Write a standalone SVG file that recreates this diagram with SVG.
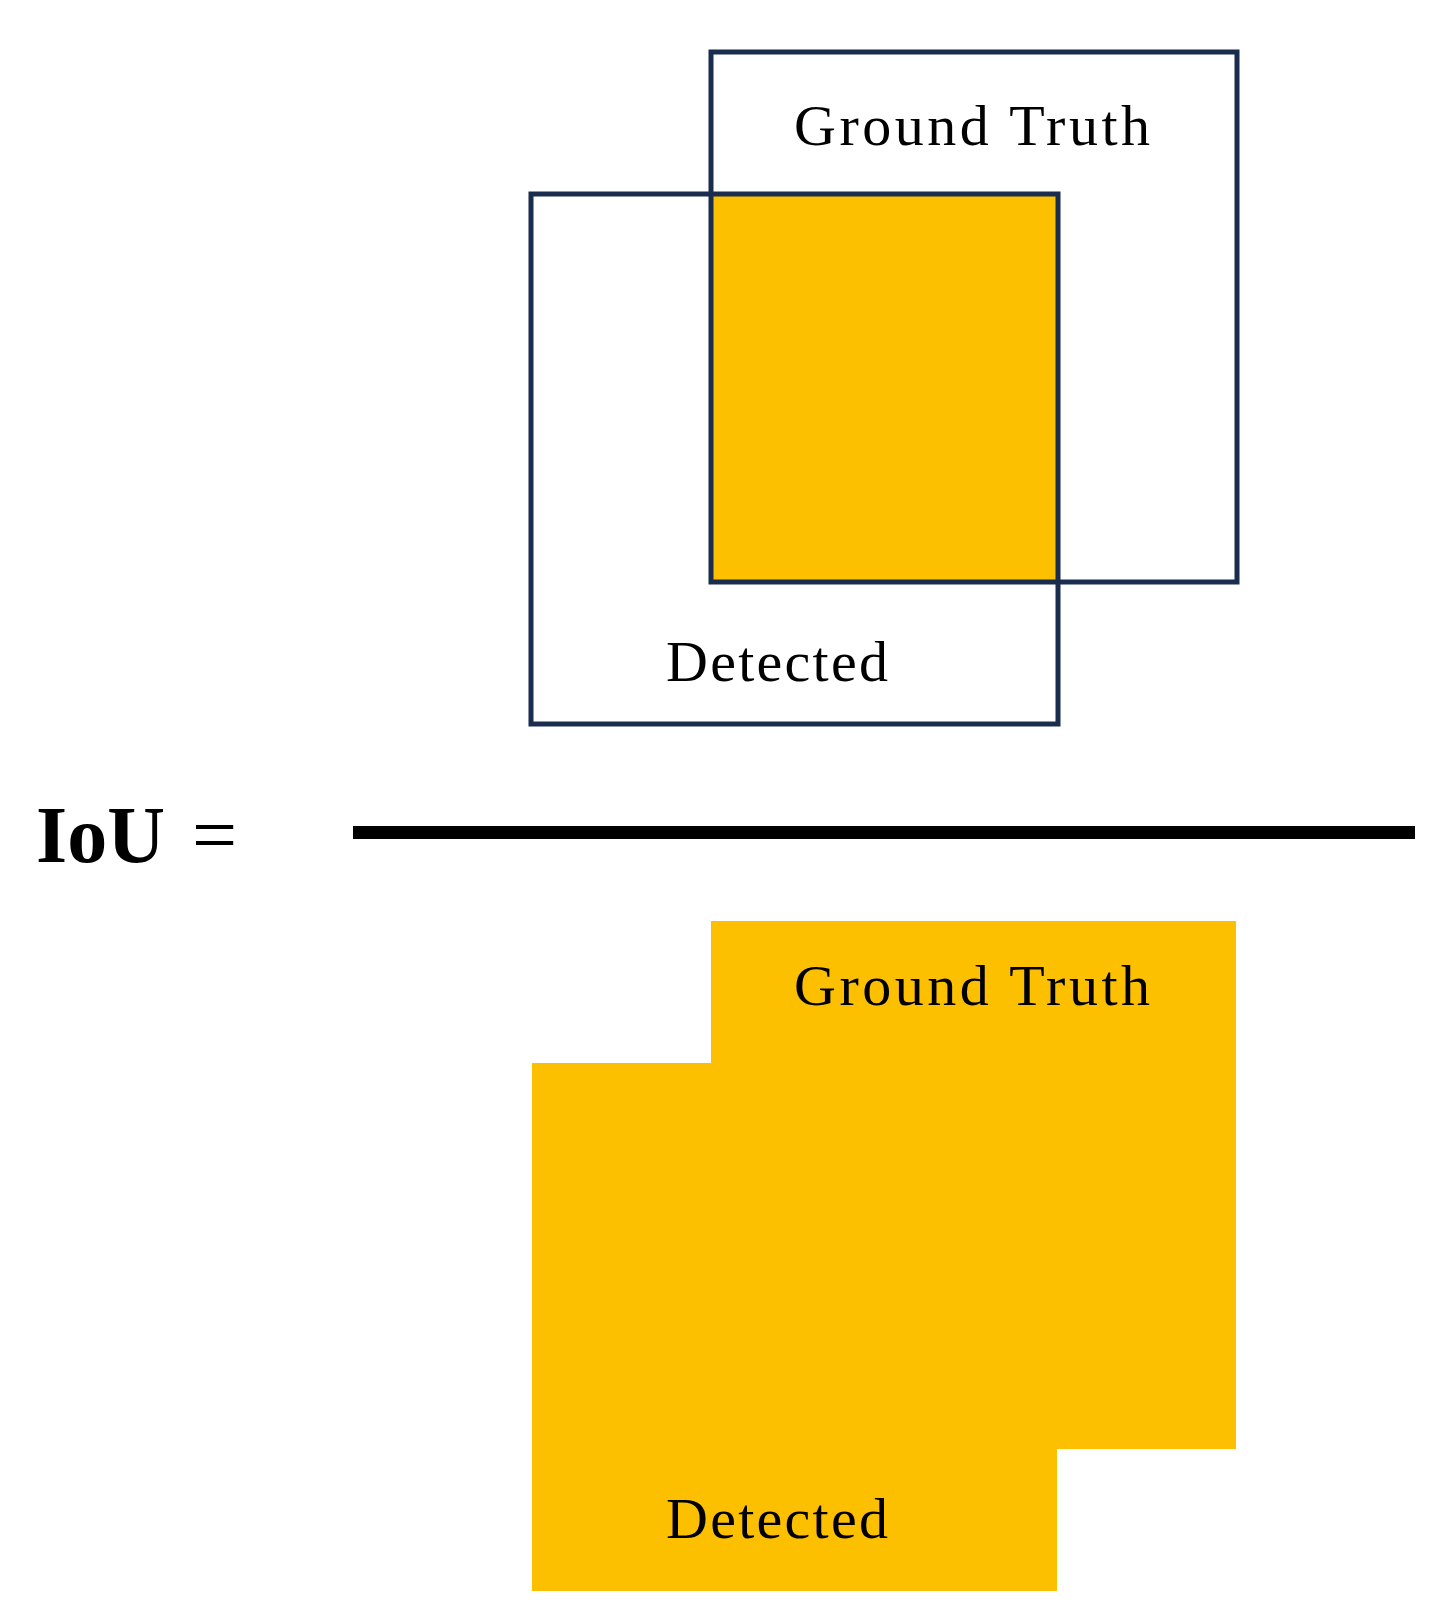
<svg xmlns="http://www.w3.org/2000/svg" width="1446" height="1617" viewBox="0 0 1446 1617">
<style>
.lbl{font-family:"Liberation Serif","DejaVu Serif",serif;font-size:58px;fill:#000}
.box{fill:none;stroke:#1b2d4f;stroke-width:5}
.fill{fill:#fdc000}
</style>
<rect width="1446" height="1617" fill="#fff"/>
<g id="numerator">
<rect class="fill" x="711" y="194" width="347" height="388" stroke="#1b2d4f" stroke-width="3"/>
<rect id="gt-top" class="box" x="711" y="52" width="526" height="530"/>
<rect id="det-top" class="box" x="531" y="194" width="527" height="530"/>
<text class="lbl" x="794" y="145" textLength="356">Ground Truth</text>
<text class="lbl" x="666" y="681" textLength="222">Detected</text>
</g>
<g id="fraction">
<text x="36" y="862" font-family="Liberation Serif, serif" font-size="80" font-weight="bold">IoU</text>
<text x="192" y="862" font-family="Liberation Serif, serif" font-size="80">=</text>
<rect x="353" y="826" width="1062" height="13" fill="#000"/>
</g>
<g id="denominator">
<path class="fill" d="M711 921H1236V1449H1057V1591H532V1063H711Z"/>
<text class="lbl" x="794" y="1005" textLength="356">Ground Truth</text>
<text class="lbl" x="666" y="1538" textLength="222">Detected</text>
</g>
</svg>
